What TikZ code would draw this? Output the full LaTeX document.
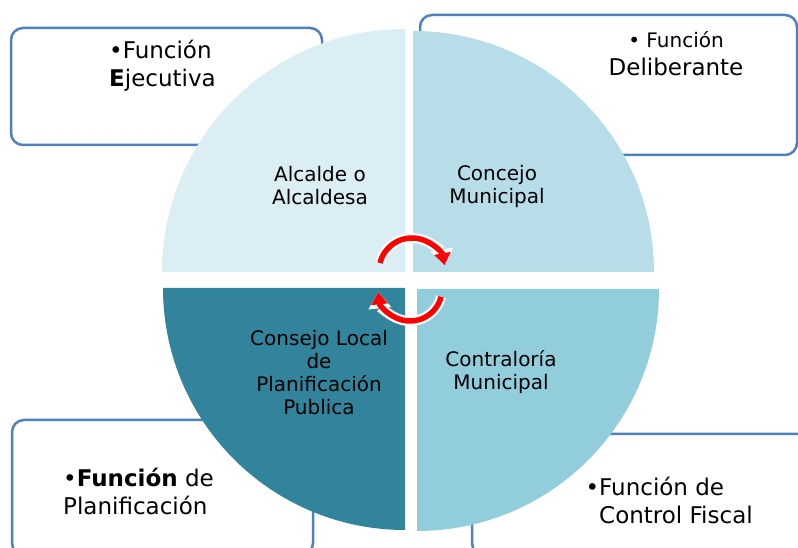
\documentclass[tikz,border=0pt]{standalone}
\usepackage{fontspec}
\setmainfont{DejaVu Sans}
\usetikzlibrary{arrows.meta}
\definecolor{qone}{HTML}{DAEEF3}
\definecolor{qtwo}{HTML}{B7DDE8}
\definecolor{qthree}{HTML}{31849B}
\definecolor{qfour}{HTML}{92CDDC}
\definecolor{boxline}{HTML}{4F81BD}
\definecolor{turnred}{HTML}{FF0000}
\tikzset{
  funcbox/.style={draw=boxline, line width=2.5pt, fill=white, rounded corners=12pt},
  quadtext/.style={align=center, inner sep=0pt, font=\fontsize{20}{23}\selectfont},
  boxtext/.style={inner sep=0pt, font=\fontsize{23}{28}\selectfont},
  turnback/.style={draw=white, line width=10pt, -{Triangle[width=22pt,length=16pt]}},
  turn/.style={draw=turnred, line width=5.5pt, -{Triangle[width=16pt,length=12pt]}},
}
\begin{document}
\begin{tikzpicture}[x=1pt,y=1pt]
    \useasboundingbox (0,0) rectangle (798,548);
    % corner boxes
    \draw[funcbox] (11,403) rectangle (322,520);
    \draw[funcbox] (420,393) rectangle (797,533);
    \draw[funcbox] (12,-7) rectangle (313,128);
    \draw[funcbox] (472,-7) rectangle (810,114);
    % quarters
    \coordinate (cA) at (405,276);
    \coordinate (cB) at (413,276);
    \coordinate (cC) at (405,260);
    \coordinate (cD) at (417,259);
    \fill[qone] (cA) -- ++(-243,0) arc (180:90:243) -- cycle;
    \fill[qtwo] (cB) -- ++(0,241) arc (90:0:241) -- cycle;
    \fill[qthree] (cC) -- ++(0,-242) arc (270:180:242) -- cycle;
    \fill[qfour] (cD) -- ++(242,0) arc (0:-90:242) -- cycle;
    % turning arrows
    \coordinate (up) at (412,277);
    \coordinate (down) at (410,259);
    \draw[turnback] ([shift={(166:33)}]up) arc (166:10:33);
    \draw[turn] ([shift={(166:33)}]up) arc (166:10:33);
    \draw[turnback] ([shift={(-14:32)}]down) arc (-14:-174:32);
    \draw[turn] ([shift={(-14:32)}]down) arc (-14:-174:32);
    % labels
    \node[quadtext] (alcalde) at (320,362) {Alcalde o\\Alcaldesa};
    \node[quadtext] (concejo) at (497,362) {Concejo\\Municipal};
    \node[quadtext] (consejo) at (319,175) {Consejo Local\\de\\Planificación\\Publica};
    \node[quadtext] (contraloria) at (501,176) {Contraloría\\Municipal};
    \node[boxtext, align=left, anchor=west] (ejecutiva) at (109,482) {•Función\\\textbf{E}jecutiva};
    \node[boxtext, align=center] (deliberante) at (676,494) {{\fontsize{20}{28}\selectfont • Función}\\Deliberante};
    \node[boxtext, align=left, anchor=west] (planificacion) at (63,57) {•\textbf{Función} de\\Planificación};
    \node[boxtext, align=left, anchor=west] (control) at (599,48) {\llap{•}Función de\\Control Fiscal};
\end{tikzpicture}
\end{document}
